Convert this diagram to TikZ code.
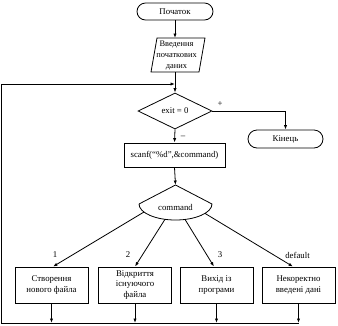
\documentclass[tikz,border=0pt]{standalone}
\usepackage{fontspec}
\setmainfont{Liberation Serif}
\usetikzlibrary{shapes.geometric,arrows.meta}
\begin{document}
\begin{tikzpicture}[x=1pt,y=-1pt, line width=0.8pt,
  every node/.style={font=\fontsize{8.8}{10.5}\selectfont, inner sep=0pt, align=center},
  arr/.style={-{Latex[length=4.5pt,width=3.2pt]}},
  term/.style={draw, rounded corners=8.5pt, minimum height=17pt},
  proc/.style={draw, minimum width=73pt, minimum height=36pt},
  lbl/.style={font=\fontsize{8.8}{10}\selectfont}]
\useasboundingbox (0,0) rectangle (338,325);

% start
\node[term, minimum width=76pt] (start) at (175,11.5) {Початок};

% input parallelogram
\draw (157,38) -- (205,38) -- (199,72) -- (151,72) -- cycle;
\node[font=\fontsize{8.4}{11.2}\selectfont] (in) at (176.5,55.5) {Введення\\початкових\\даних};
\coordinate (inT) at (175,38);
\coordinate (inB) at (175,72);

% decision
\node[draw, diamond, minimum width=74pt, minimum height=36pt] (ex) at (175,111) {exit = 0};
\node[term, minimum width=75pt, minimum height=18pt, rounded corners=9pt] (end) at (285.5,139) {Кінець};
\node[lbl] (plus) at (220,104) {+};
\node[lbl] (minus) at (183,137) {–};

% scanf
\node[draw, minimum width=101pt, minimum height=24pt] (scan) at (174.5,155) {scanf(“\%d”,\&command)};

% switch shape
\draw (139,204) -- (175.5,185) -- (212,204)
  .. controls (212,212.8) and (195.6,220) .. (175.5,220)
  .. controls (155.4,220) and (139,212.8) .. (139,204);
\node (cmd) at (175.5,207) {command};
\coordinate (cmdT) at (175.5,185);
\coordinate (b1) at (144,212);
\coordinate (b2) at (165,219.3);
\coordinate (b3) at (185,219.4);
\coordinate (b4) at (205,213.4);

% case boxes
\node[proc] (c1) at (51.5,285) {Створення\\нового файла};
\node[proc] (c2) at (135,285) {Відкриття\\існуючого\\файла};
\node[proc] (c3) at (216.5,285) {Вихід із\\програми};
\node[proc] (c4) at (298.5,285) {Некоректно\\введені дані};

\node[lbl] (l1) at (55,255) {1};
\node[lbl] (l2) at (128,255) {2};
\node[lbl] (l3) at (220,255) {3};
\node[lbl] (l4) at (297.5,255) {default};

% loop coordinates
\coordinate (bl) at (1.5,323);
\coordinate (tl) at (1.5,84);

% connectors
\draw[arr] (start) -- (inT);
\draw[arr] (inB) -- (ex.north);
\draw[arr] (ex.east) -| (end.north);
\draw[arr] (ex.south) -- (scan.north);
\draw[arr] (scan.south) -- (cmdT);
\draw[arr] (b1) -- ([xshift=1.5pt]c1.north);
\draw[arr] (b2) -- (c2.north);
\draw[arr] (b3) -- ([xshift=-2.5pt]c3.north);
\draw[arr] (b4) -- ([xshift=-5.5pt]c4.north);
\draw[arr] (c1.south) -- (c1.south |- bl);
\draw[arr] (c2.south) -- (c2.south |- bl);
\draw[arr] (c3.south) -- (c3.south |- bl);
\draw[arr] (c4.south) -- (c4.south |- bl);
\draw[arr] (c4.south |- bl) -- (bl) -- (tl) -- (inB |- tl);
\end{tikzpicture}
\end{document}
